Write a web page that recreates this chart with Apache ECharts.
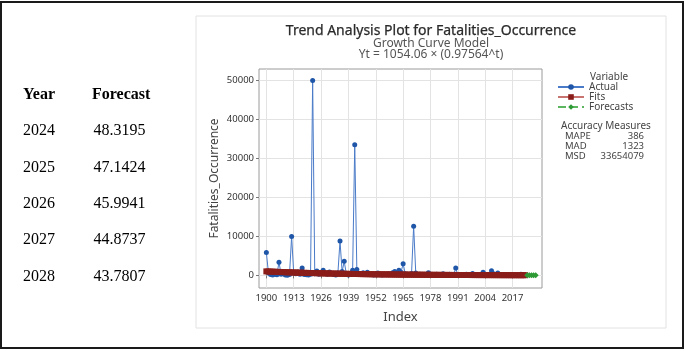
<!DOCTYPE html>
<html>
<head>
<meta charset="utf-8">
<script src="https://cdn.jsdelivr.net/npm/echarts@6/dist/echarts.min.js"></script>
<style>
  html, body { margin: 0; padding: 0; background: #fff; }
  #chart { width: 685px; height: 351px; }
</style>
</head>
<body>
<div id="chart"></div>
<script>
// years of the observed series (index 1..124 in the model)
const years = [];
for (let y = 1900; y <= 2023; y++) years.push(y);

// actual fatalities
const actual = [
  5900, 600, 200, 100, 300, 150, 3400, 300, 700, 100,
  50, 200, 10000, 600, 400, 900, 300, 1900, 200, 150,
  100, 300, 50000, 400, 1100, 300, 600, 1300, 500, 300,
  900, 500, 200, 100, 600, 8800, 1000, 3600, 400, 100,
  300, 1300, 33500, 1500, 300, 500, 700, 200, 800, 300,
  200, 100, 300, 600, 200, 100, 300, 200, 400, 300,
  700, 1000, 500, 1300, 800, 3000, 400, 300, 200, 500,
  12600, 600, 200, 300, 100, 200, 100, 700, 300, 200,
  100, 300, 200, 100, 400, 200, 100, 300, 200, 100,
  1900, 50, 20, 200, 100, 300, 200, 100, 500, 100,
  50, 200, 100, 800, 300, 100, 200, 1200, 400, 100,
  600, 200, 100, 30, 20, 50, 100, 30, 50, 40,
  60, 300, 100, 80
];

// fitted growth curve values
const fits = [
  1028, 1003, 979, 955, 932, 909, 887, 865, 844, 824,
  804, 784, 765, 746, 728, 710, 693, 676, 660, 644,
  628, 613, 598, 583, 569, 555, 542, 528, 516, 503,
  491, 479, 467, 456, 445, 434, 423, 413, 403, 393,
  383, 374, 365, 356, 347, 339, 331, 323, 315, 307,
  300, 292, 285, 278, 271, 265, 258, 252, 246, 240,
  234, 228, 223, 217, 212, 207, 202, 197, 192, 188,
  183, 178, 174, 170, 166, 162, 158, 154, 150, 146,
  143, 139, 136, 133, 129, 126, 123, 120, 117, 114,
  112, 109, 106, 104, 101, 99, 96, 94, 92, 89,
  87, 85, 83, 81, 79, 77, 75, 73, 72, 70,
  68, 67, 65, 63, 62, 60, 59, 57, 56, 55,
  53, 52, 51, 49
];

const forecastYears = [2024, 2025, 2026, 2027, 2028];
const forecasts = [48.3195, 47.1424, 45.9941, 44.8737, 43.7807];

const xTicks = [1900, 1913, 1926, 1939, 1952, 1965, 1978, 1991, 2004, 2017];
const yTicks = [0, 10000, 20000, 30000, 40000, 50000];

const accNames = ['MAPE', 'MAD', 'MSD'];
const accValues = ['386', '1323', '33654079'];

const chart = echarts.init(document.getElementById('chart'));

const sans = '"Noto Sans", "Open Sans", sans-serif';
const serif = '"Liberation Serif", "Times New Roman", serif';

const graphics = [
  // outer black frame
  { type: 'rect', shape: { x: 1, y: 2, width: 682, height: 346 },
    style: { fill: 'none', stroke: '#1a1a1a', lineWidth: 2 }, silent: true },
  // minitab panel border
  { type: 'rect', shape: { x: 196, y: 16, width: 470, height: 312 },
    style: { fill: 'none', stroke: '#e2e2e2', lineWidth: 1 }, silent: true },
  // titles
  { type: 'text', x: 431, y: 31, style: { text: 'Trend Analysis Plot for Fatalities_Occurrence',
    font: '14px ' + sans, fill: '#2a2a2a', stroke: '#2a2a2a', lineWidth: 0.25,
    align: 'center', verticalAlign: 'middle' } },
  { type: 'text', x: 431, y: 43.5, style: { text: 'Growth Curve Model',
    font: '12px ' + sans, fill: '#555', align: 'center', verticalAlign: 'middle' } },
  { type: 'text', x: 431, y: 54.5, style: { text: 'Yt = 1054.06 × (0.97564^t)',
    font: '12px ' + sans, fill: '#555', align: 'center', verticalAlign: 'middle' } },
  // legend heading
  { type: 'text', x: 590, y: 77, style: { text: 'Variable',
    font: '10px ' + sans, fill: '#444', align: 'left', verticalAlign: 'middle' } },
  { type: 'text', x: 561, y: 126, style: { text: 'Accuracy Measures',
    font: '10px ' + sans, fill: '#444', align: 'left', verticalAlign: 'middle' } },
  // table header
  { type: 'text', x: 23, y: 95, style: { text: 'Year',
    font: 'bold 16px ' + serif, fill: '#000', align: 'left', verticalAlign: 'middle' } },
  { type: 'text', x: 92, y: 95, style: { text: 'Forecast',
    font: 'bold 16px ' + serif, fill: '#000', align: 'left', verticalAlign: 'middle' } }
];

accNames.forEach((n, i) => {
  graphics.push({ type: 'text', x: 565, y: 136 + i * 10, style: { text: n,
    font: '9.5px ' + sans, fill: '#444', align: 'left', verticalAlign: 'middle' } });
  graphics.push({ type: 'text', x: 644, y: 136 + i * 10, style: { text: accValues[i],
    font: '9.5px ' + sans, fill: '#444', align: 'right', verticalAlign: 'middle' } });
});

forecastYears.forEach((yr, i) => {
  const yy = 131 + i * 36.4;
  graphics.push({ type: 'text', x: 23, y: yy, style: { text: String(yr),
    font: '16px ' + serif, fill: '#000', align: 'left', verticalAlign: 'middle' } });
  graphics.push({ type: 'text', x: 93.5, y: yy, style: { text: forecasts[i].toFixed(4),
    font: '16px ' + serif, fill: '#000', align: 'left', verticalAlign: 'middle' } });
});

const plain = v => String(v);

const option = {
  animation: false,
  backgroundColor: '#fff',
  grid: {
    left: 259, top: 69, width: 283, height: 219,
    show: true, borderColor: '#9a9a9a', borderWidth: 1, containLabel: false
  },
  legend: {
    orient: 'vertical',
    left: 557, top: 82,
    padding: 0,
    itemWidth: 26, itemHeight: 7, itemGap: 0,
    textStyle: { fontFamily: sans, fontSize: 10, lineHeight: 10, color: '#444' },
    data: ['Actual', 'Fits', 'Forecasts']
  },
  xAxis: {
    type: 'value',
    min: 1896.5, max: 2031,
    name: 'Index', nameLocation: 'middle', nameGap: 23,
    nameTextStyle: { fontFamily: sans, fontSize: 13, color: '#444' },
    axisLine: { show: false },
    axisTick: { show: true, length: 3, lineStyle: { color: '#777' }, customValues: xTicks },
    axisLabel: { customValues: xTicks, formatter: plain, margin: 5, fontFamily: sans, fontSize: 9.5, color: '#333' },
    splitLine: { show: true, lineStyle: { color: '#e3e3e3', width: 1 } }
  },
  yAxis: {
    type: 'value',
    min: -3230, max: 52920,
    name: 'Fatalities_Occurrence', nameLocation: 'middle', nameGap: 38,
    nameTextStyle: { fontFamily: sans, fontSize: 12, color: '#444' },
    axisLine: { show: false },
    axisTick: { show: true, length: 3, lineStyle: { color: '#777' }, customValues: yTicks },
    axisLabel: { customValues: yTicks, formatter: plain, margin: 5, fontFamily: sans, fontSize: 9.5, color: '#333' },
    splitLine: { show: true, lineStyle: { color: '#e3e3e3', width: 1 } }
  },
  graphic: graphics,
  series: [
    {
      name: 'Actual', type: 'line',
      data: years.map((y, i) => [y, actual[i]]),
      symbol: 'circle', symbolSize: 5,
      itemStyle: { color: '#1f56a8' },
      lineStyle: { color: '#4a7bc8', width: 1 },
      z: 2
    },
    {
      name: 'Fits', type: 'line',
      data: years.map((y, i) => [y, fits[i]]),
      symbol: 'rect', symbolSize: 6,
      itemStyle: { color: '#8a1d19' },
      lineStyle: { color: '#c87470', width: 3 },
      z: 3
    },
    {
      name: 'Forecasts', type: 'line',
      data: forecastYears.map((y, i) => [y, forecasts[i]]),
      symbol: 'diamond', symbolSize: 6,
      itemStyle: { color: '#2e9a35' },
      lineStyle: { color: '#5cb55f', width: 1.5, type: 'dashed' },
      z: 4
    }
  ]
};

chart.setOption(option);
</script>
</body>
</html>
